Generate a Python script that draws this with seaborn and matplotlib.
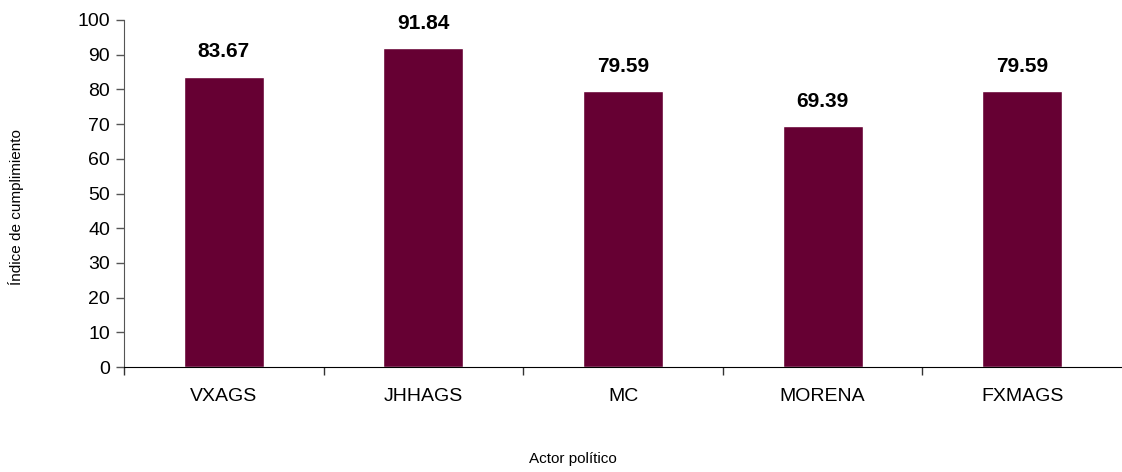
import matplotlib
matplotlib.use("Agg")
import matplotlib.pyplot as plt
import seaborn as sns
import pandas as pd
from matplotlib.ticker import FixedLocator, MultipleLocator

# Data
actors = ["VXAGS", "JHHAGS", "MC", "MORENA", "FXMAGS"]
values = [83.67, 91.84, 79.59, 69.39, 79.59]
df = pd.DataFrame({"Actor": actors, "Indice": values})

sns.set_style("white")
plt.rcParams["font.family"] = ["Liberation Sans Narrow", "Liberation Sans", "DejaVu Sans"]
plt.rcParams["text.color"] = "black"
plt.rcParams["xtick.color"] = "black"
plt.rcParams["ytick.color"] = "black"
plt.rcParams["axes.labelcolor"] = "black"

fig = plt.figure(figsize=(11.22, 4.72), dpi=100)
ax = fig.add_axes([124 / 1122, 1 - 367 / 472, 998 / 1122, 347 / 472])

sns.barplot(data=df, x="Actor", y="Indice", color="#660033", width=0.4,
            saturation=1, ax=ax)

# value labels
for i, v in enumerate(values):
    ax.annotate(f"{v:.2f}", (i, v), xytext=(0, 11), textcoords="offset points",
                ha="center", va="bottom", fontsize=15, fontweight="bold", color="black")

ax.set_xlim(-0.5, 4.5)
ax.set_ylim(0, 100)
ax.yaxis.set_major_locator(MultipleLocator(10))

# ticks between categories, labels centred
ax.xaxis.set_major_locator(FixedLocator([-0.5, 0.5, 1.5, 2.5, 3.5]))
ax.xaxis.set_minor_locator(FixedLocator(range(len(actors))))
ax.set_xticklabels([], minor=False)
ax.set_xticklabels(actors, minor=True)
ax.tick_params(axis="x", which="major", direction="out", length=6, width=1, color="#333333", bottom=True)
ax.tick_params(axis="x", which="minor", length=0, labelsize=14, pad=15, labelcolor="black")
ax.tick_params(axis="y", direction="out", length=6, width=1, color="#555555", left=True,
               labelsize=14, pad=4, labelcolor="black")

for s in ["top", "right"]:
    ax.spines[s].set_visible(False)
ax.spines["left"].set_color("#555555")
ax.spines["bottom"].set_color("#000000")

ax.set_xlabel("Actor político", fontsize=11)
ax.xaxis.set_label_coords(0.45, -0.245)
ax.set_ylabel("Índice de cumplimiento", fontsize=11)
ax.yaxis.set_label_coords(-0.10, 0.46)

fig.savefig("out.png", dpi=100)
